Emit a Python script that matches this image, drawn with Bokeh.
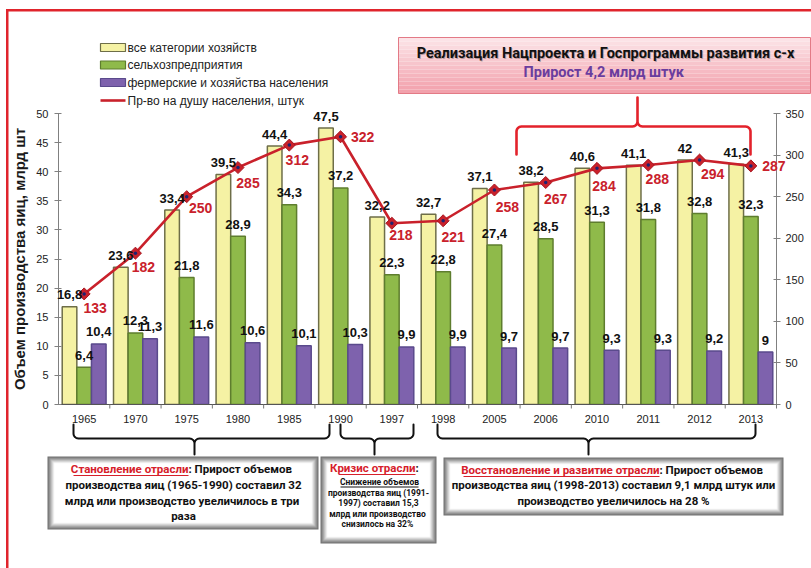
import math
from bokeh.plotting import figure
from bokeh.models import (FactorRange, Range1d, LinearAxis, SingleIntervalTicker, ColumnDataSource)
from bokeh.transform import dodge
from bokeh.embed import file_html
from bokeh.resources import INLINE
from bokeh.core.properties import value

# ---------------- data ----------------
years = ["1965", "1970", "1975", "1980", "1985", "1990", "1997", "1998",
         "2005", "2006", "2010", "2011", "2012", "2013"]
all_farms = [16.8, 23.6, 33.4, 39.5, 44.4, 47.5, 32.2, 32.7, 37.1, 38.2, 40.6, 41.1, 42.0, 41.3]
agri_enterprises = [6.4, 12.3, 21.8, 28.9, 34.3, 37.2, 22.3, 22.8, 27.4, 28.5, 31.3, 31.8, 32.8, 32.3]
farm_households = [10.4, 11.3, 11.6, 10.6, 10.1, 10.3, 9.9, 9.9, 9.7, 9.7, 9.3, 9.3, 9.2, 9.0]
per_capita = [133, 182, 250, 285, 312, 322, 218, 221, 258, 267, 284, 288, 294, 287]

series_names = ["все категории хозяйств", "сельхозпредприятия",
                "фермерские и хозяйства населения", "Пр-во на душу населения, штук"]

# label placement for the per-capita numbers (screen px, y up)
pc_dx = [11, 8, 14, 10, 8, 22, 9, 10, 13, 10, 7, 9, 13, 23]
pc_dy = [-14, -14, -11, -15, -15, 0, -12, -16, -17, -16, -18, -14, -14, 0]


def fmt(v):
    return str(int(v)) if float(v).is_integer() else str(v).replace(".", ",")


src = ColumnDataSource(dict(
    year=years, all=all_farms, agri=agri_enterprises, farm=farm_households, pc=per_capita,
    all_lbl=[fmt(v) for v in all_farms], agri_lbl=[fmt(v) for v in agri_enterprises],
    farm_lbl=[fmt(v) for v in farm_households], pc_lbl=[fmt(v) for v in per_capita],
    dx=pc_dx, ndy=[-v for v in pc_dy]))

# ---------------- figure ----------------
FL, FR, FT, FB = 58, 776, 113, 404          # frame edges in page pixels
WIDTH, HEIGHT = 811, 568
p = figure(x_range=FactorRange(factors=years), y_range=Range1d(0, 50),
           width=WIDTH, height=HEIGHT, output_backend="svg", toolbar_location=None,
           min_border_left=FL, min_border_right=WIDTH - FR,
           min_border_top=FT, min_border_bottom=HEIGHT - FB)
p.x_range.range_padding = 0
p.extra_y_ranges = {"pc": Range1d(0, 350), "py": Range1d(FB, FT)}
p.xgrid.grid_line_color = None
p.ygrid.grid_line_color = None
p.outline_line_color = None
p.background_fill_color = "white"
p.border_fill_color = "white"
NCAT = len(years)


def cx(px):
    """page pixel x -> synthetic categorical coordinate"""
    return (px - FL) * NCAT / (FR - FL)


AX_FONT = "Liberation Sans"
yax = p.yaxis[0]
yax.ticker = SingleIntervalTicker(interval=5)
yax.axis_label = "Объем производства яиц, млрд шт"
yax.axis_label_text_font = AX_FONT
yax.axis_label_text_font_style = "bold"
yax.axis_label_text_font_size = "15px"
yax.axis_label_text_color = "#1a1a1a"
yax.axis_label_standoff = 5
yax.major_label_text_font = AX_FONT
yax.major_label_text_font_size = "11px"
yax.major_label_text_color = "#222222"
yax.major_label_standoff = 6
yax.axis_line_color = "#808080"
yax.major_tick_line_color = "#808080"
yax.major_tick_out = 4
yax.major_tick_in = 3
yax.minor_tick_line_color = None

rax = LinearAxis(y_range_name="pc", ticker=SingleIntervalTicker(interval=50))
rax.major_label_text_font = AX_FONT
rax.major_label_text_font_size = "11px"
rax.major_label_text_color = "#222222"
rax.major_label_standoff = 5
rax.axis_line_color = "#808080"
rax.major_tick_line_color = "#808080"
rax.major_tick_out = 4
rax.major_tick_in = 3
rax.minor_tick_line_color = None
p.add_layout(rax, "right")

xax = p.xaxis[0]
xax.major_label_text_font = AX_FONT
xax.major_label_text_font_size = "11px"
xax.major_label_text_color = "#222222"
xax.major_label_standoff = 4
xax.axis_line_color = "#555555"
xax.major_tick_line_color = None

PX = dict(y_range_name="py", level="overlay")

# category boundary ticks under the x axis
p.segment(x0=dodge("year", 0.5, range=p.x_range), x1=dodge("year", 0.5, range=p.x_range),
          y0=FB, y1=FB + 4, y_range_name="py", source=src, line_color="#777777",
          line_width=1, level="overlay")

# ---------------- bars ----------------
W = 0.285
p.vbar(x=dodge("year", -W, range=p.x_range), top="all", width=W, source=src,
       fill_color="#f5f2a4", line_color="#6e6e48", line_width=1.5)
p.vbar(x=dodge("year", 0, range=p.x_range), top="agri", width=W, source=src,
       fill_color="#8fba4a", line_color="#5e7d2e", line_width=1.5)
p.vbar(x=dodge("year", W, range=p.x_range), top="farm", width=W, source=src,
       fill_color="#7e62ad", line_color="#5a4a8c", line_width=1.5)

# ---------------- line ----------------
RED = "#c9212b"
p.line(x="year", y="pc", y_range_name="pc", source=src, line_color=RED, line_width=2.6)
p.scatter(x="year", y="pc", y_range_name="pc", source=src, marker="square", angle=math.pi / 4,
          size=8.5, fill_color=RED, line_color="#a8161f", line_width=1)
p.scatter(x="year", y="pc", y_range_name="pc", source=src, marker="circle",
          size=3.5, fill_color="#1e2470", line_color=None)

# ---------------- value labels ----------------
lab_common = dict(source=src, text_align="center", text_baseline="middle",
                  text_font=value(AX_FONT), text_font_style="bold", text_font_size="13px",
                  text_color="#111111", level="overlay")
p.text(x=dodge("year", -W, range=p.x_range), y="all", text="all_lbl", y_offset=-12, **lab_common)
p.text(x=dodge("year", 0, range=p.x_range), y="agri", text="agri_lbl", y_offset=-12, **lab_common)
p.text(x=dodge("year", W, range=p.x_range), y="farm", text="farm_lbl", y_offset=-12, **lab_common)
p.text(x="year", y="pc", y_range_name="pc", text="pc_lbl", x_offset="dx", y_offset="ndy",
       source=src, text_align="center", text_baseline="middle", text_font=value(AX_FONT),
       text_font_style="bold", text_font_size="14px", text_color=RED, level="overlay")


# ---------------- decorations in page-pixel coordinates ----------------
def quad(l, r, t, b, color, line=None, lw=1):
    p.quad(left=[cx(l)], right=[cx(r)], top=[t], bottom=[b], fill_color=color,
           line_color=line, line_width=lw, **PX)


def frame_rect(l, r, t, b, color, lw=1):
    p.line(x=[cx(v) for v in (l, r, r, l, l)], y=[t, t, b, b, t], line_color=color,
           line_width=lw, **PX)


def txt(x, y, s, size, color="#111111", align="center", font="Roboto", style="bold", alpha=1.0):
    p.text(x=[cx(x)], y=[y], text=[s], text_align=align, text_baseline="middle",
           text_font=value(font), text_font_style=style, text_font_size=size,
           text_color=color, text_alpha=alpha, **PX)


def mix(c1, c2, t):
    return "#%02x%02x%02x" % tuple(int(round(a + (b - a) * t)) for a, b in zip(c1, c2))


def brace(x0, x1, xc, y_end, y_bar, y_tip, color, lw, r=5):
    e = 1 if y_bar > y_end else -1

    def half(xa, xb):
        s = 1 if xb > xa else -1
        pts = [(xa, y_end)]
        for k in range(7):
            t = k / 6 * math.pi / 2
            pts.append((xa + s * r - s * r * math.cos(t), y_bar - e * r + e * r * math.sin(t)))
        for k in range(7):
            t = k / 6 * math.pi / 2
            pts.append((xb - s * r + s * r * math.sin(t), y_bar + e * r - e * r * math.cos(t)))
        pts.append((xb, y_tip))
        return pts

    path = half(x0, xc) + half(x1, xc)[::-1][1:]
    p.line(x=[cx(a) for a, _ in path], y=[b for _, b in path], line_color=color,
           line_width=lw, line_join="round", line_cap="round", **PX)


# outer red frame
quad(5.5, 8, 8.5, HEIGHT, "#e0242c")
quad(5.5, WIDTH, 8.5, 11, "#e0242c")

# legend (drawn by hand in the empty area above the plot)
leg_y = [47, 64.5, 82, 100]
leg_fill = ["#f5f2a4", "#8fba4a", "#7e62ad"]
leg_line = ["#6e6e48", "#5e7d2e", "#5a4a8c"]
for i in range(3):
    quad(100, 125, leg_y[i] - 4, leg_y[i] + 4, leg_fill[i], line=leg_line[i], lw=1.2)
p.line(x=[cx(100), cx(125)], y=[leg_y[3], leg_y[3]], line_color=RED, line_width=2.6, **PX)
p.scatter(x=[cx(112.5)], y=[leg_y[3]], marker="square", angle=math.pi / 4, size=8.5,
          fill_color=RED, line_color="#a8161f", **PX)
p.scatter(x=[cx(112.5)], y=[leg_y[3]], marker="circle", size=3.5, fill_color="#1e2470",
          line_color=None, **PX)
for i in range(4):
    txt(127, leg_y[i], series_names[i], "12px", color="#222222", align="left",
        font=AX_FONT, style="normal")

# title box with pink gradient
top_c, bot_c = (252, 230, 233), (242, 158, 170)
n = 14
y0, y1 = 37, 93
for i in range(n):
    a = y0 + (y1 - y0) * i / n
    b = y0 + (y1 - y0) * (i + 1) / n
    quad(398, 810, a, b, mix(top_c, bot_c, (i + 0.5) / n))
frame_rect(398, 810, y0, y1, "#e37a86", 1)
TITLE = "Реализация Нацпроекта и Госпрограммы развития с-х"
txt(606, 54, TITLE, "14.5px", color="#000000", alpha=0.25)
txt(605, 53, TITLE, "14.5px", color="#111111")
txt(605, 72, "Прирост  4,2 млрд штук", "14.5px", color="#6a3d9e")

# red brace
brace(516, 750, 637, 154, 126, 97, "#e3222b", 2.6)

# bottom braces
brace(73, 329, 194, 424, 438, 454, "#111111", 2)
brace(340, 413, 374, 424, 438, 454, "#111111", 2)
brace(437, 755, 588, 424, 438, 454, "#111111", 2)


def shaded_box(l, r, t, b):
    outer, inner = (112, 112, 112), (248, 248, 248)
    k = 7
    for i in range(k):
        quad(l + i, r - i, t + i, b - i, mix(outer, inner, i / (k - 1)))
    quad(l + k, r - k, t + k, b - k, "#ffffff")


RED_T = "#d6202a"
F_BOX = "11.5px"

# box 1
shaded_box(47, 318, 456, 529)
txt(188, 468, "Становление отрасли", F_BOX, color=RED_T, align="right")
txt(188, 468, ": Прирост объемов", F_BOX, align="left")
quad(73, 188, 474.5, 475.5, RED_T)
txt(183, 484, "производства яиц (1965-1990) составил 32", F_BOX)
txt(183, 500, "млрд  или производство увеличилось в три", F_BOX)
txt(183, 515, "раза", F_BOX)

# box 2
shaded_box(320, 436, 456, 543)
txt(415, 467, "Кризис отрасли", F_BOX, color=RED_T, align="right")
txt(415, 467, ":", F_BOX, align="left")
quad(338, 415, 473.5, 474.5, RED_T)
F_SM = "8.5px"
txt(379, 481, "Снижение объемов", F_SM)
quad(340, 418, 486, 487, "#111111")
txt(378, 492, "производства яиц (1991-", F_SM)
txt(378, 502, "1997) составил 15,3", F_SM)
txt(378, 513, "млрд  или производство", F_SM)
txt(378, 523, "снизилось  на 32%", F_SM)

# box 3
shaded_box(443, 783, 457, 515)
txt(659, 469, "Восстановление и развитие отрасли", F_BOX, color=RED_T, align="right")
txt(659, 469, ": Прирост объемов", F_BOX, align="left")
quad(463, 659, 475.5, 476.5, RED_T)
txt(613, 484, "производства яиц (1998-2013) составил 9,1 млрд штук или", F_BOX)
txt(613, 500, "производство увеличилось на 28 %", F_BOX)

open("out.html", "w").write(file_html(p, INLINE))
